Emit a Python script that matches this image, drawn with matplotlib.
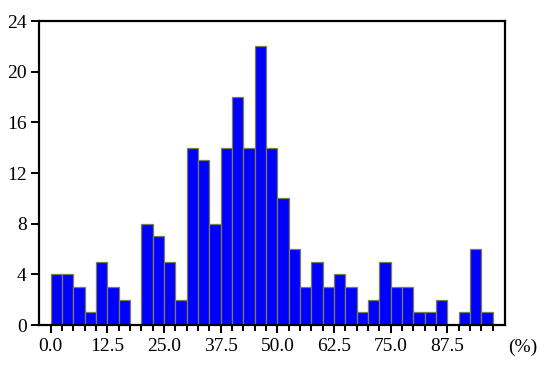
import numpy as np
import matplotlib
matplotlib.use('Agg')
import matplotlib.pyplot as plt

# histogram, bin width 2.5 %
bin_left = np.arange(0, 100, 2.5)
counts = [4, 4, 3, 1, 5, 3, 2, 0, 8, 7, 5, 2,
          14, 13, 8, 14, 18, 14, 22, 14, 10, 6, 3, 5,
          3, 4, 3, 1, 2, 5, 3, 3, 1, 1, 2, 0, 1, 6, 1]
bin_left = bin_left[:len(counts)]
major_ticks = [0.0, 12.5, 25.0, 37.5, 50.0, 62.5, 75.0, 87.5]
y_ticks = [0, 4, 8, 12, 16, 20, 24]

plt.rcParams['font.family'] = ['Liberation Serif', 'DejaVu Serif']

fig = plt.figure(figsize=(5.5, 3.72), dpi=100)
ax = fig.add_axes([0.0715, 0.1263, 0.8465, 0.8172])

ax.bar(bin_left, counts, width=2.5, align='edge', color='#0000ff',
       edgecolor='#7d7d55', linewidth=0.9)

ax.set_xlim(-2.5, 100.2)
ax.set_ylim(0, 24)

ax.set_xticks(major_ticks)
ax.set_xticklabels(['%.1f' % t for t in major_ticks])
ax.set_xticks(np.arange(0, 100, 2.5), minor=True)
ax.set_yticks(y_ticks)

ax.tick_params(axis='both', which='major', direction='out', length=6, width=1.4,
               labelsize=14, colors='black', pad=3)
ax.tick_params(axis='x', which='minor', direction='out', length=4.5, width=1.4)

for s in ax.spines.values():
    s.set_linewidth(1.6)

fig.text(0.951, 0.067, '(%)', fontsize=14, ha='center', va='center')

plt.savefig('out.png', dpi=100)
